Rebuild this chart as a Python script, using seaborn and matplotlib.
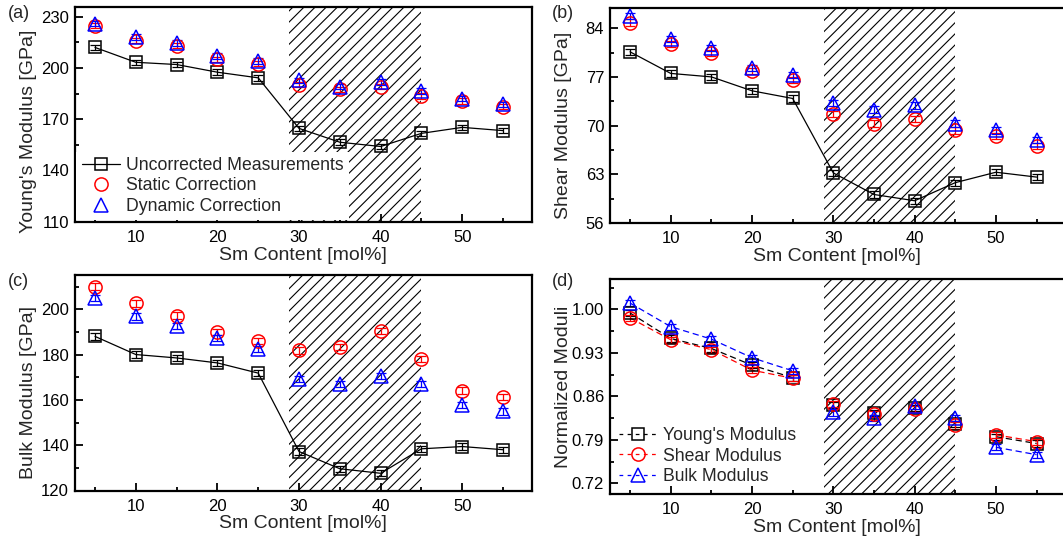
import numpy as np
import pandas as pd
import matplotlib
matplotlib.use("Agg")
import matplotlib.pyplot as plt
from matplotlib.lines import Line2D
from matplotlib.ticker import FixedLocator, FormatStrFormatter
import seaborn as sns

# ---------------- data ----------------
sm_content = [5, 10, 15, 20, 25, 30, 35, 40, 45, 50, 55]

young_uncorrected = [212.0, 203.3, 202.0, 197.5, 194.2, 164.6, 156.5, 154.0, 161.7, 165.2, 163.3]
young_static = [224.8, 216.0, 213.0, 205.0, 202.5, 190.3, 187.5, 189.0, 183.6, 180.7, 177.4]
young_dynamic = [226.0, 218.0, 214.5, 207.0, 204.0, 192.7, 189.0, 191.7, 186.5, 182.0, 178.7]
young_err = [1.6, 1.6, 1.6, 1.6, 1.6, 1.6, 1.6, 1.6, 1.6, 1.6, 1.6]

shear_uncorrected = [80.6, 77.5, 77.0, 75.0, 73.9, 63.2, 60.1, 59.2, 61.8, 63.3, 62.6]
shear_static = [84.8, 81.7, 80.4, 77.8, 76.6, 71.7, 70.3, 70.9, 69.3, 68.5, 67.1]
shear_dynamic = [85.7, 82.4, 81.1, 78.3, 77.3, 73.3, 72.3, 72.9, 70.3, 69.3, 67.9]
shear_err = [0.45, 0.45, 0.45, 0.45, 0.45, 0.45, 0.45, 0.45, 0.45, 0.45, 0.45]

bulk_uncorrected = [188.0, 180.0, 178.5, 176.3, 171.8, 137.2, 129.6, 127.6, 138.4, 139.4, 138.0]
bulk_static = [210.0, 202.6, 197.2, 189.9, 186.0, 181.8, 183.2, 190.4, 178.0, 164.1, 161.2]
bulk_dynamic = [204.9, 196.8, 192.6, 187.2, 182.5, 169.1, 166.9, 170.6, 166.9, 157.8, 154.9]
bulk_err = [1.4, 1.4, 1.4, 1.4, 1.4, 1.4, 1.4, 1.4, 1.4, 1.4, 1.4]

norm_young = [0.994, 0.953, 0.937, 0.910, 0.890, 0.846, 0.833, 0.841, 0.816, 0.795, 0.784]
norm_shear = [0.986, 0.951, 0.935, 0.902, 0.889, 0.847, 0.832, 0.840, 0.813, 0.798, 0.787]
norm_bulk = [1.010, 0.972, 0.952, 0.922, 0.901, 0.834, 0.825, 0.844, 0.825, 0.778, 0.766]
norm_err = [0.005, 0.005, 0.005, 0.005, 0.005, 0.005, 0.005, 0.005, 0.005, 0.005, 0.005]

hatch_region = (28.8, 45.0)

x_major = [10, 20, 30, 40, 50]
x_minor = [5, 15, 25, 35, 45, 55]
yticks_a = [110, 140, 170, 200, 230]
yticks_b = [56, 63, 70, 77, 84]
yticks_c = [120, 140, 160, 180, 200]
yticks_d = [0.72, 0.79, 0.86, 0.93, 1.00]

panel_labels = ["(a)", "(b)", "(c)", "(d)"]
xlabel = "Sm Content [mol%]"
ylabels = ["Young's Modulus [GPa]", "Shear Modulus [GPa]", "Bulk Modulus [GPa]", "Normalized Moduli"]
legend_a = ["Uncorrected Measurements", "Static Correction", "Dynamic Correction"]
legend_d = ["Young's Modulus", "Shear Modulus", "Bulk Modulus"]

# ---------------- style ----------------
sns.set_theme(style="ticks")
plt.rcParams["font.family"] = ["Liberation Sans", "DejaVu Sans"]
FS_TICK, FS_LABEL, FS_LEG, FS_PANEL = 12, 14, 12.7, 13
plt.rcParams["font.size"] = FS_TICK
plt.rcParams["hatch.linewidth"] = 0.8
plt.rcParams["hatch.color"] = "black"
plt.rcParams["axes.linewidth"] = 1.6

BLACK, RED, BLUE = "#000000", "#ff0000", "#0000ff"
MS = 9.5

fig = plt.figure(figsize=(10.63, 5.45), dpi=100)
ax_a = fig.add_axes([0.0702, 0.5927, 0.4299, 0.3945])
ax_b = fig.add_axes([0.5736, 0.5908, 0.4283, 0.3945])
ax_c = fig.add_axes([0.0702, 0.1000, 0.4299, 0.3954])
ax_d = fig.add_axes([0.5736, 0.0936, 0.4283, 0.3940])
axes = [ax_a, ax_b, ax_c, ax_d]


def style_axis(ax, ylim, yticks, fmt=None):
    ax.set_xlim(2.5, 58.5)
    ax.set_ylim(*ylim)
    ax.xaxis.set_major_locator(FixedLocator(x_major))
    ax.xaxis.set_minor_locator(FixedLocator(x_minor))
    ax.yaxis.set_major_locator(FixedLocator(yticks))
    step = (yticks[1] - yticks[0]) / 2
    ax.yaxis.set_minor_locator(FixedLocator([t + step for t in yticks]))
    if fmt:
        ax.yaxis.set_major_formatter(FormatStrFormatter(fmt))
    ax.tick_params(which="both", direction="in", top=False, right=False, width=1.3, colors="black")
    ax.tick_params(which="major", length=6, pad=4, labelsize=FS_TICK)
    ax.tick_params(axis="x", which="major", pad=6)
    ax.tick_params(which="minor", length=3)
    for s in ax.spines.values():
        s.set_visible(True)
        s.set_linewidth(1.6)
        s.set_color("black")
    ax.set_xlabel(xlabel, fontsize=FS_LABEL, labelpad=1)
    ax.axvspan(*hatch_region, facecolor="none", edgecolor="black", hatch="///", linewidth=0, zorder=0)


def err(ax, y, e, color):
    ax.errorbar(sm_content, y, yerr=e, fmt="none", ecolor=color, elinewidth=0.9, capsize=3.5, capthick=0.9, zorder=3)


def series(ax, y, marker, color, line=False, ms=MS):
    df = pd.DataFrame({"x": sm_content, "y": y})
    sns.lineplot(data=df, x="x", y="y", ax=ax, color=color, marker=marker, markersize=ms,
                 markerfacecolor="none", markeredgecolor=color, markeredgewidth=1.1,
                 linewidth=0.9 if line else 0, zorder=4, legend=False)


def three_panel(ax, unc, sta, dyn, e):
    series(ax, unc, "s", BLACK, line=True, ms=9)
    series(ax, sta, "o", RED)
    series(ax, dyn, "^", BLUE, ms=10.5)
    err(ax, unc, e, BLACK)
    err(ax, sta, e, RED)
    err(ax, dyn, e, BLUE)


three_panel(ax_a, young_uncorrected, young_static, young_dynamic, young_err)
three_panel(ax_b, shear_uncorrected, shear_static, shear_dynamic, shear_err)
three_panel(ax_c, bulk_uncorrected, bulk_static, bulk_dynamic, bulk_err)

# panel (d): dashed segments outside the hatched region
seg = ["A" if v < hatch_region[0] else ("B" if v > hatch_region[1] else "C") for v in sm_content]
for vals, color, marker, ms in [(norm_young, BLACK, "s", 9), (norm_shear, RED, "o", MS), (norm_bulk, BLUE, "^", 10.5)]:
    df = pd.DataFrame({"x": sm_content, "y": vals, "seg": seg})
    dl = df[df["seg"] != "C"]
    sns.lineplot(data=dl, x="x", y="y", units="seg", estimator=None, ax=ax_d, color=color,
                 linewidth=0.9, dashes=False, linestyle=(0, (5, 3)), zorder=3, legend=False)
    sns.lineplot(data=df, x="x", y="y", ax=ax_d, color=color, marker=marker, markersize=ms,
                 markerfacecolor="none", markeredgecolor=color, markeredgewidth=1.1,
                 linewidth=0, zorder=4, legend=False)
    err(ax_d, vals, norm_err, color)

style_axis(ax_a, (109.8, 235.7), yticks_a)
style_axis(ax_b, (56, 86.9), yticks_b)
style_axis(ax_c, (120, 215.1), yticks_c)
style_axis(ax_d, (0.7028, 1.0483), yticks_d, "%.2f")

ylabel_y = [0.423, 0.456, 0.457, 0.5]
for ax, yl, yy in zip(axes, ylabels, ylabel_y):
    ax.set_ylabel(yl, fontsize=FS_LABEL)
    ax.yaxis.set_label_coords(-0.083, yy)

# legends
h_a = [Line2D([], [], color=BLACK, lw=0.9, marker="s", ms=9, mfc="none", mec=BLACK, mew=1.1),
       Line2D([], [], color=RED, lw=0, marker="o", ms=MS, mfc="none", mec=RED, mew=1.1),
       Line2D([], [], color=BLUE, lw=0, marker="^", ms=10.5, mfc="none", mec=BLUE, mew=1.1)]
leg_a = ax_a.legend(h_a, legend_a, loc="lower left", frameon=True, fancybox=False, framealpha=1,
                    facecolor="white", edgecolor="none", fontsize=FS_LEG, handlelength=2.2,
                    handletextpad=0.3, labelspacing=0.2, borderpad=0.3, borderaxespad=0.1)
leg_a.set_zorder(10)

h_d = [Line2D([], [], color=c, lw=0.9, ls=(0, (3, 3.5)), marker=m, ms=s, mfc="none", mec=c, mew=1.1)
       for c, m, s in [(BLACK, "s", 9), (RED, "o", MS), (BLUE, "^", 10.5)]]
ax_d.legend(h_d, legend_d, loc="lower left", frameon=False, fontsize=FS_LEG, handlelength=2.2,
            handletextpad=0.3, labelspacing=0.2, borderpad=0.3, borderaxespad=0.2)

label_pos = [(0.0075, 0.991), (0.519, 0.991), (0.0075, 0.5), (0.519, 0.5)]
for (px, py), t in zip(label_pos, panel_labels):
    fig.text(px, py, t, fontsize=FS_PANEL, ha="left", va="top")

fig.savefig("out.png", dpi=100)
